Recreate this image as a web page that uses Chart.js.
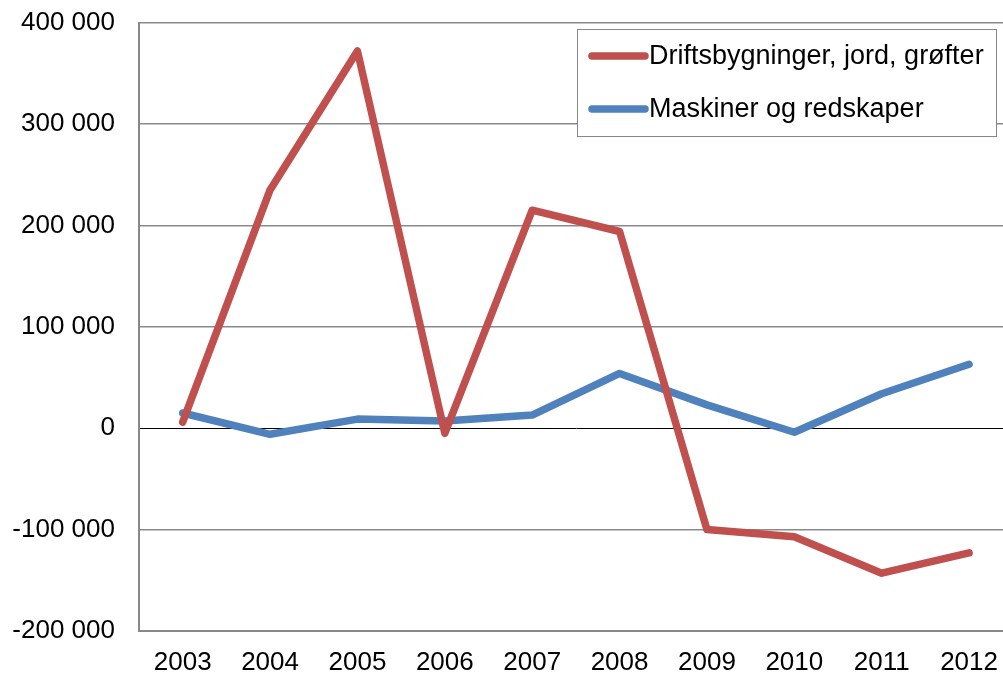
<!DOCTYPE html>
<html>
<head>
<meta charset="utf-8">
<script src="https://cdn.jsdelivr.net/npm/chart.js@4"></script>
<style>
  html, body { margin: 0; padding: 0; background: #fff; overflow: hidden; }
  #wrap { width: 1014px; height: 679px; position: relative; overflow: hidden; }
  #chart { position: absolute; left: 0; top: -17px; }
</style>
</head>
<body>
<div id="wrap"><canvas id="chart"></canvas></div>
<script>
// years on the x axis
const years = ["2003", "2004", "2005", "2006", "2007", "2008", "2009", "2010", "2011", "2012"];

// values
const driftsbygninger = [6000, 235000, 372000, -5000, 215000, 194000, -100000, -107000, -143000, -123000];
const maskiner = [15000, -6000, 9000, 7000, 13000, 54000, 23000, -4000, 34000, 63000];

const seriesLabels = ["Driftsbygninger, jord, grøfter", "Maskiner og redskaper"];
const seriesColors = ["#C0504D", "#4F81BD"];

const FONT = "'Liberation Sans', Arial, sans-serif";
const SHIFT = 17; // canvas is moved up by this much to trim the top gap

function formatN(v) {
    let s = Math.abs(v).toString().replace(/\B(?=(\d{3})+(?!\d))/g, " ");
    return (v < 0 ? "-" : "") + s;
}

// legend box drawn on top of the plot, like the original
const boxLegend = {
    id: "boxLegend",
    afterDraw(chart) {
        const ctx = chart.ctx;
        const x = 577, y = 29 + SHIFT, w = 419, h = 107;
        ctx.save();
        ctx.fillStyle = "#fff";
        ctx.fillRect(x, y, w, h);
        ctx.strokeStyle = "#888";
        ctx.lineWidth = 1;
        ctx.strokeRect(x + 0.5, y + 0.5, w, h);
        ctx.font = "27px " + FONT;
        ctx.textBaseline = "middle";
        ctx.lineCap = "round";
        let rows = [56 + SHIFT, 109 + SHIFT];
        chart.data.datasets.forEach(function(ds, i) {
            ctx.strokeStyle = ds.borderColor;
            ctx.lineWidth = 7.5;
            ctx.beginPath();
            ctx.moveTo(592, rows[i]);
            ctx.lineTo(645, rows[i]);
            ctx.stroke();
            ctx.fillStyle = "#000";
            ctx.fillText(ds.label, 649, rows[i] + 1);
        });
        ctx.restore();
    }
};

const data = {
    labels: years,
    datasets: [
        {
            label: seriesLabels[0],
            data: driftsbygninger,
            borderColor: seriesColors[0],
            backgroundColor: seriesColors[0],
            borderWidth: 7.5,
            pointRadius: 0,
            tension: 0,
            borderCapStyle: "round",
            borderJoinStyle: "round"
        },
        {
            label: seriesLabels[1],
            data: maskiner,
            borderColor: seriesColors[1],
            backgroundColor: seriesColors[1],
            borderWidth: 7.5,
            pointRadius: 0,
            tension: 0,
            borderCapStyle: "round",
            borderJoinStyle: "round"
        }
    ]
};

const config = {
    type: "line",
    data: data,
    options: {
        responsive: false,
        animation: false,
        layout: { padding: 0 },
        plugins: {
            legend: { display: false },
            tooltip: { enabled: false }
        },
        scales: {
            x: {
                offset: true,
                grid: { display: false, drawTicks: false },
                border: { display: true, color: "#888", width: 2 },
                ticks: {
                    color: "#000",
                    font: { family: FONT, size: 26 },
                    padding: 16,
                    maxRotation: 0
                },
                afterFit: function(scale) { scale.height = 48; }
            },
            y: {
                min: -200000,
                max: 400000,
                grid: {
                    drawTicks: false,
                    color: (c) => c.tick && c.tick.value === 0 ? "#000" : "#8a8a8a",
                    lineWidth: (c) => c.tick && c.tick.value === 0 ? 1 : 1.5
                },
                border: { display: true, color: "#888", width: 2 },
                ticks: {
                    stepSize: 100000,
                    color: "#000",
                    font: { family: FONT, size: 26 },
                    padding: 24,
                    callback: (v) => formatN(v)
                },
                afterFit: function(scale) { scale.width = 139; }
            }
        }
    },
    plugins: [boxLegend]
};

const canvas = document.getElementById("chart");
canvas.width = 1014;
canvas.height = 679 + SHIFT;
const myChart = new Chart(canvas, config);
</script>
</body>
</html>
